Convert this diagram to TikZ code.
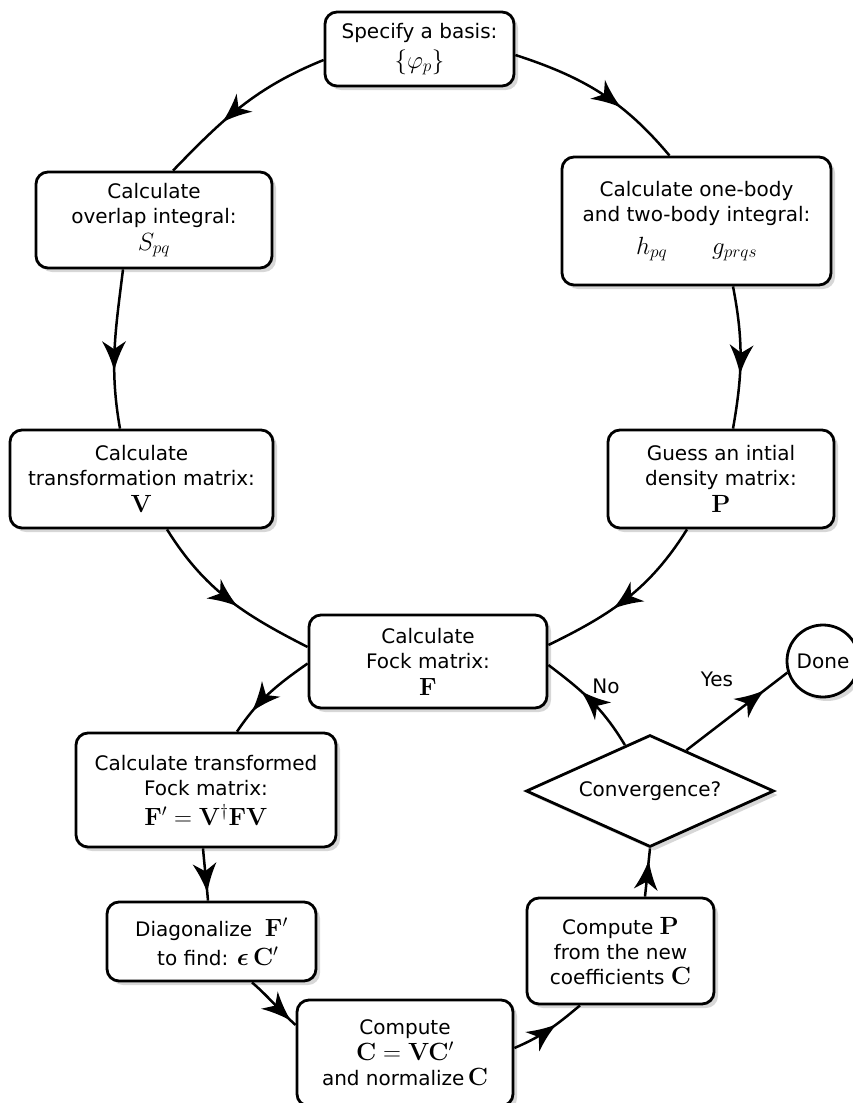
\documentclass[tikz,border=0pt]{standalone}
\usepackage{amsmath}
\usepackage[no-math]{fontspec}
\setmainfont{DejaVu Sans}
\usetikzlibrary{arrows.meta,shapes.geometric,shadows,decorations.markings,calc}
\newcommand\mth[1]{{\fontsize{25}{26}\selectfont$#1$}}
\begin{document}
\begin{tikzpicture}[x=1pt,y=1pt,
  font=\fontsize{20}{25}\selectfont,
  shadowed/.style={drop shadow={shadow xshift=4pt, shadow yshift=-4pt, fill=black!45, opacity=0.35}},
  box/.style={draw, line width=2.8pt, rounded corners=12pt, fill=white, align=center, inner sep=4pt, shadowed},
  link/.style={line width=2.5pt},
  arrowmid/.style={postaction={decorate},
    decoration={markings, mark=at position #1 with {\fill[line join=miter] (3,0) .. controls (-6,2.2) and (-16,6) .. (-27,12) -- (-19,0) -- (-27,-12) .. controls (-16,-6) and (-6,-2.2) .. (3,0) -- cycle;}}},
  arrowmid/.default=0.55]
\useasboundingbox (0,0) rectangle (853,-1103);

\node[box, minimum width=189pt, minimum height=74pt] (spec) at (419.5,-49) {Specify a basis:\\[5pt] \mth{\{\varphi_p\}}};
\node[box, minimum width=236pt, minimum height=96pt] (overlap) at (154,-220) {Calculate\\overlap integral:\\[2pt]\mth{S_{pq}}};
\node[box, minimum width=269pt, minimum height=128pt] (onebody) at (696.5,-221) {Calculate one-body\\and two-body integral:\\[8pt]\mth{h_{pq}\hspace{45pt}g_{prqs}}};
\node[box, minimum width=263pt, minimum height=98pt] (transf) at (141.5,-479) {Calculate\\transformation matrix:\\[2pt]\mth{\mathbf{V}}};
\node[box, minimum width=226pt, minimum height=98pt] (guess) at (721,-479) {Guess an intial\\density matrix:\\[2pt]\mth{\mathbf{P}}};
\node[box, minimum width=238pt, minimum height=93pt] (fock) at (428,-661.5) {Calculate\\Fock matrix:\\[2pt]\mth{\mathbf{F}}};
\node[box, minimum width=260pt, minimum height=114pt] (tfock) at (206,-790) {Calculate transformed\\Fock matrix:\\[5pt]\mth{\mathbf{F}'=\mathbf{V}^\dagger\mathbf{F}\mathbf{V}}};
\node[box, minimum width=209pt, minimum height=79pt] (diag) at (211.5,-941.5) {Diagonalize\ \ \mth{\mathbf{F}'}\\[4pt]\ \ to find: \mth{\boldsymbol{\epsilon}\,\mathbf{C}'}};
\node[box, minimum width=216pt, minimum height=106pt] (compC) at (405,-1053) {Compute\\[1pt]\mth{\mathbf{C}=\mathbf{V}\mathbf{C}'}\\and normalize\,\mth{\mathbf{C}}};
\node[box, minimum width=187pt, minimum height=106pt] (compP) at (620.5,-951) {Compute \mth{\mathbf{P}}\\from the new\\coefficients \mth{\mathbf{C}}};
\node[diamond, draw, line width=2.8pt, fill=white, aspect=2.2, minimum width=248pt, minimum height=112pt, inner sep=0pt, shadowed] (conv) at (650,-791) {Convergence?};
\node[circle, draw, line width=2.8pt, fill=white, minimum size=72pt, inner sep=0pt, shadowed] (done) at (823,-661) {Done};

\node (nolab) at (606,-686) {No};
\node (yeslab) at (717,-679) {Yes};

\draw[link, arrowmid=0.62] ([yshift=-11pt]spec.west) to[out=202, in=46] ([xshift=19pt]overlap.north);
\draw[link, arrowmid=0.62] ([yshift=-6pt]spec.east) to[out=-18, in=130] ([xshift=-27pt]onebody.north);
\draw[link, arrowmid=0.62] ([xshift=-31pt]overlap.south) to[out=263, in=100] ([xshift=-21.5pt]transf.north);
\draw[link, arrowmid=0.6] ([xshift=36.5pt]onebody.south) to[out=-79, in=80] ([xshift=12pt]guess.north);
\draw[link, arrowmid=0.55] ([xshift=25.5pt]transf.south) to[out=-58, in=153] ([yshift=14.5pt]fock.west);
\draw[link, arrowmid=0.58] ([xshift=-34pt]guess.south) to[out=238, in=26] ([yshift=16.5pt]fock.east);
\draw[link, arrowmid=0.72] ([yshift=-2pt]fock.west) to[out=215, in=56] ([xshift=31pt]tfock.north);
\draw[link, arrowmid=0.8] ([xshift=-3pt]tfock.south) to[out=-85, in=95] ([xshift=-3.5pt]diag.north);
\draw[link, arrowmid=0.85] ([xshift=40.5pt]diag.south) to[out=-41, in=138] ([yshift=28pt]compC.west);
\draw[link, arrowmid=0.58] ([yshift=5pt]compC.east) to[out=23, in=220] ([xshift=-40.5pt]compP.south);
\draw[link, arrowmid=0.7] ([xshift=24.5pt]compP.north) to[out=84, in=264] (conv.south);
\draw[link, arrowmid=0.6] ($(conv.north)!0.2!(conv.west)$) to[out=121, in=-37] ([yshift=-3.5pt]fock.east);
\draw[link, arrowmid=0.75] ($(conv.north)!0.29!(conv.east)$) -- (done.198);
\end{tikzpicture}
\end{document}
